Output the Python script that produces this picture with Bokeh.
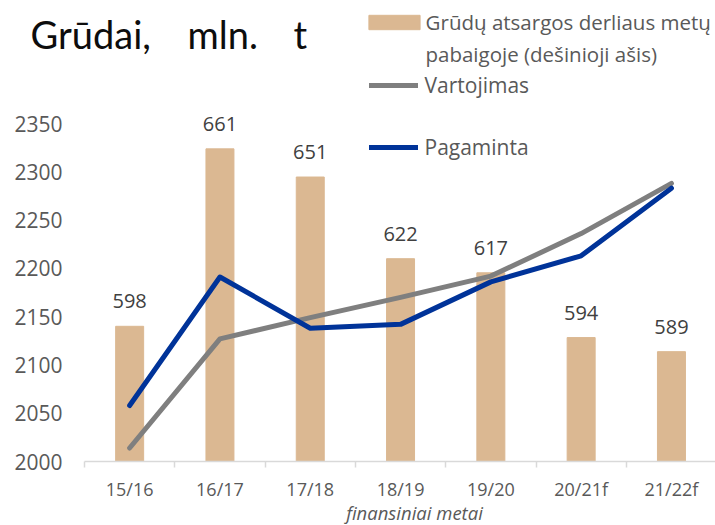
from bokeh.plotting import figure
from bokeh.models import Range1d, FixedTicker, Legend, LegendItem, Label
from bokeh.embed import file_html
from bokeh.resources import INLINE
from bokeh.core.properties import value

# ---- data ----
categories = ["15/16", "16/17", "17/18", "18/19", "19/20", "20/21f", "21/22f"]
stocks = [598, 661, 651, 622, 617, 594, 589]              # right axis
consumption = [2014, 2127, 2149, 2170, 2192, 2236, 2288]  # Vartojimas
production = [2058, 2191, 2138, 2142, 2186, 2213, 2283]   # Pagaminta
y_ticks = [2000, 2050, 2100, 2150, 2200, 2250, 2300, 2350]
stock_labels = [str(v) for v in stocks]

title_words = ["Grūdai,", "mln.", "t"]
leg_bar_1 = "Grūdų atsargos derliaus metų"
leg_bar_2 = "pabaigoje (dešinioji ašis)"
leg_cons = "Vartojimas"
leg_prod = "Pagaminta"
x_title = "finansiniai metai"

# ---- styles / layout ----
FONT = "Open Sans"
BAR_C = "#DBB892"
GRAY_C = "#7F7F7F"
BLUE_C = "#003399"
TXT_C = "#595959"
W, H = 715, 525
FRAME_L = 84          # px where the category area starts
PX_PER_CAT = 90.3
AXIS_Y = 461          # px of the 2000 baseline from top
PX_PER_UNIT = 338 / 350
Y0 = 2000
R0, R_SCALE = 550, 120 / 350   # right axis: value = R0 + (left - Y0) * R_SCALE

xs = list(range(len(categories)))
x_start = -0.5 - FRAME_L / PX_PER_CAT
x_end = x_start + W / PX_PER_CAT
y_start = Y0 - (H - AXIS_Y) / PX_PER_UNIT
y_end = y_start + H / PX_PER_UNIT

p = figure(width=W, height=H, output_backend="svg", toolbar_location=None,
           title_location=None,
           x_range=Range1d(x_start, x_end), y_range=Range1d(y_start, y_end),
           min_border_left=0, min_border_right=0, min_border_top=0,
           min_border_bottom=0)
p.extra_y_ranges = {"right": Range1d(R0 + (y_start - Y0) * R_SCALE,
                                     R0 + (y_end - Y0) * R_SCALE)}
p.outline_line_color = None
p.grid.grid_line_color = None
p.background_fill_color = "white"
p.border_fill_color = "white"

bars = p.vbar(x=xs, top=stocks, bottom=R0, width=0.31, y_range_name="right",
              fill_color=BAR_C, line_color=BAR_C)
gl = p.line(xs, consumption, line_color=GRAY_C, line_width=5,
            line_cap="round", line_join="round")
bl = p.line(xs, production, line_color=BLUE_C, line_width=5,
            line_cap="round", line_join="round")
p.text(x=xs, y=stocks, text=stock_labels, y_range_name="right", y_offset=-25,
       text_align="center", text_baseline="middle", text_font=value(FONT),
       text_font_size="20px", text_color="#404040")

# axes (fixed inside the frame)
xa = p.xaxis[0]
xa.fixed_location = Y0
xa.bounds = (-0.5, x_end)
xa.ticker = FixedTicker(ticks=xs, minor_ticks=[i - 0.5 for i in range(len(categories) + 1)])
xa.major_label_overrides = {i: c for i, c in enumerate(categories)}
xa.axis_line_color = "#D9D9D9"
xa.axis_line_width = 1.5
xa.major_tick_line_color = None
xa.major_tick_out = 0
xa.major_tick_in = 0
xa.minor_tick_line_color = "#D9D9D9"
xa.minor_tick_line_width = 1.5
xa.minor_tick_out = 6
xa.minor_tick_in = 0
xa.major_label_standoff = 9
xa.major_label_text_font = FONT
xa.major_label_text_font_size = "18px"
xa.major_label_text_color = TXT_C

ya = p.yaxis[0]
ya.fixed_location = -0.5
ya.ticker = FixedTicker(ticks=y_ticks)
ya.axis_line_color = None
ya.major_tick_line_color = None
ya.minor_tick_line_color = None
ya.major_tick_out = 0
ya.major_tick_in = 0
ya.major_label_standoff = 22
ya.major_label_text_font = FONT
ya.major_label_text_font_size = "21px"
ya.major_label_text_color = TXT_C

# titles (screen units from the bottom-left of the frame = canvas)
for word, wx in zip(title_words, [30, 187, 293]):
    p.add_layout(Label(x=wx, y=H - 33, x_units="screen", y_units="screen", text=word,
                       text_font="Lato", text_font_size="38px", text_color="#0d0d0d",
                       text_baseline="middle"))
p.add_layout(Label(x=414, y=H - 512, x_units="screen", y_units="screen", text=x_title,
                   text_font=FONT, text_font_size="18.5px", text_font_style="italic",
                   text_color=TXT_C, text_align="center", text_baseline="middle"))

# legends (item height 28, centred)
ITEM_H = 28
def mk_legend(label, rend, x, cy, gw, gh, standoff, fs="21px"):
    lg = Legend(items=[LegendItem(label=label, renderers=[rend])],
                location=(x, H - (cy + ITEM_H / 2)),
                glyph_width=gw, glyph_height=gh, label_height=ITEM_H,
                label_standoff=standoff,
                padding=0, margin=0, spacing=0, border_line_color=None,
                background_fill_alpha=0, label_text_font=FONT,
                label_text_font_size=fs, label_text_color=TXT_C)
    p.add_layout(lg, "center")

mk_legend(leg_bar_1, bars, 361.6, 22, 64, 18, 0, "20.5px")
mk_legend(leg_cons, gl, 368.5, 85, 49, 20, 7)
mk_legend(leg_prod, bl, 368.5, 147, 49, 20, 7)
p.add_layout(Label(x=425, y=H - 53, x_units="screen", y_units="screen", text=leg_bar_2,
                   text_font=FONT, text_font_size="20.5px", text_color=TXT_C,
                   text_baseline="middle"))

open("out.html", "w").write(file_html(p, INLINE))
